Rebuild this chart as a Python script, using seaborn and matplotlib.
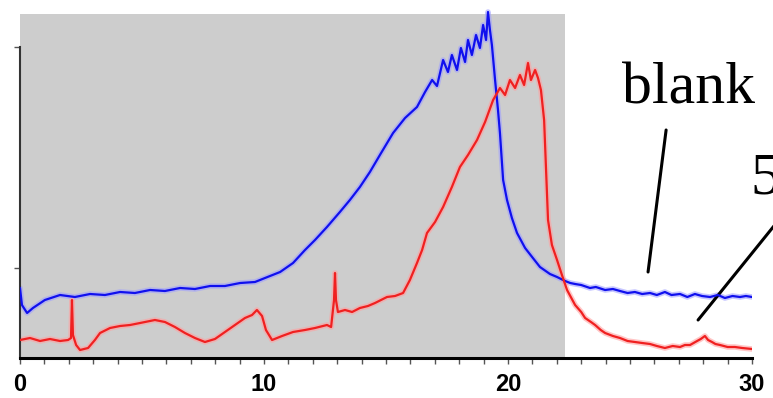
import pandas as pd
import matplotlib.pyplot as plt
import seaborn as sns

# retention time (min) and detector signal (arbitrary units)
blank_time = [0.00, 0.08, 0.29, 0.53, 1.02, 1.64, 2.25, 2.87, 3.48, 4.10, 4.71, 5.33, 5.94,
              6.56, 7.17, 7.79, 8.40, 9.02, 9.63, 10.04, 10.66, 11.19, 11.68, 12.09, 12.58,
              13.11, 13.52, 13.93, 14.34, 14.75, 15.29, 15.78, 16.27, 16.60, 16.89, 17.09,
              17.34, 17.54, 17.70, 17.91, 18.07, 18.24, 18.36, 18.52, 18.69, 18.85, 18.98,
              19.10, 19.18, 19.26, 19.34, 19.47, 19.59, 19.67, 19.80, 19.96, 20.16, 20.37,
              20.70, 21.02, 21.31, 21.72, 22.01, 22.34, 22.55, 22.75, 23.00, 23.36, 23.60,
              23.98, 24.30, 24.59, 24.90, 25.20, 25.50, 25.82, 26.10, 26.43, 26.70, 27.05,
              27.35, 27.66, 27.95, 28.28, 28.60, 28.89, 29.20, 29.51, 29.75, 30.00]
blank_signal = [70, 53, 45, 50, 58, 63, 61, 64, 63, 66, 65, 68, 67, 70, 69, 72, 72, 75, 76,
                80, 86, 95, 108, 118, 131, 146, 158, 171, 186, 203, 225, 240, 251, 266, 278,
                272, 298, 286, 303, 288, 310, 296, 318, 303, 323, 310, 333, 318, 346, 328,
                313, 278, 248, 225, 178, 158, 140, 125, 110, 100, 91, 84, 81, 77, 75, 74, 73,
                70, 71, 68, 69, 67, 65, 66, 64, 65, 63, 66, 63, 64, 61, 64, 62, 61, 63, 60,
                62, 61, 62, 61]

sample_time = [0.00, 0.41, 0.82, 1.23, 1.64, 1.97, 2.09, 2.13, 2.17, 2.30, 2.46, 2.79, 3.07,
               3.28, 3.69, 4.10, 4.51, 4.92, 5.53, 5.94, 6.35, 6.76, 7.17, 7.58, 7.99, 8.40,
               8.81, 9.22, 9.51, 9.71, 9.92, 10.08, 10.33, 10.74, 11.19, 11.68, 12.09, 12.58,
               12.75, 12.87, 12.91, 12.95, 13.03, 13.32, 13.61, 13.93, 14.26, 14.55, 15.04,
               15.37, 15.70, 15.98, 16.27, 16.48, 16.68, 17.01, 17.34, 17.70, 18.03, 18.36,
               18.73, 19.06, 19.39, 19.67, 19.88, 20.08, 20.29, 20.49, 20.66, 20.82, 20.94,
               21.11, 21.23, 21.35, 21.48, 21.56, 21.64, 21.80, 22.01, 22.21, 22.42, 22.75,
               23.00, 23.16, 23.40, 23.57, 23.80, 23.98, 24.30, 24.59, 24.90, 25.20, 25.50,
               25.82, 26.10, 26.43, 26.75, 27.05, 27.25, 27.46, 27.75, 27.90, 28.07, 28.20,
               28.36, 28.50, 28.69, 29.00, 29.30, 29.60, 30.00]
sample_signal = [18, 20, 17, 19, 17, 18, 20, 58, 23, 13, 8, 10, 18, 25, 30, 32, 33, 35, 38,
                 36, 31, 25, 20, 16, 19, 26, 33, 40, 43, 48, 42, 28, 18, 22, 26, 28, 30, 33,
                 31, 58, 85, 58, 46, 48, 46, 50, 52, 55, 61, 62, 65, 78, 95, 108, 125, 136,
                 151, 171, 191, 203, 218, 236, 258, 270, 263, 278, 270, 283, 273, 295, 278,
                 288, 280, 268, 238, 188, 138, 113, 98, 83, 68, 53, 46, 40, 36, 33, 28, 25,
                 22, 20, 17, 16, 15, 14, 12, 10, 12, 11, 13, 13, 17, 19, 22, 18, 16, 14, 13,
                 11, 11, 10, 9]

collect_end = 22.34
y_ticks = [90, 311]

df_blank = pd.DataFrame({'time': blank_time, 'signal': blank_signal})
df_sample = pd.DataFrame({'time': sample_time, 'signal': sample_signal})

sns.set_style('ticks')
plt.rcParams['font.family'] = ['Liberation Sans', 'DejaVu Sans']

fig = plt.figure(figsize=(7.73, 3.98), dpi=100)
ax = fig.add_axes([20 / 773, 40 / 398, 732 / 773, 353 / 398])

ax.axvspan(0, collect_end, ymin=0, ymax=344 / 353, color='#cdcdcd', lw=0, zorder=0)

# soft halo like the scanned original, then the trace itself
for df, col, halo in [(df_blank, '#1010ee', '#a0a0ff'), (df_sample, '#f02020', '#ffa0a0')]:
    sns.lineplot(data=df, x='time', y='signal', color=halo, linewidth=4, alpha=0.6, ax=ax, zorder=2)
    sns.lineplot(data=df, x='time', y='signal', color=col, linewidth=1.6, ax=ax, zorder=3)

ax.set_xlim(0, 30)
ax.set_ylim(0, 353)
ax.set_xlabel('')
ax.set_ylabel('')
ax.set_xticks([0, 10, 20, 30])
ax.set_xticks(range(0, 31), minor=True)
ax.set_yticks(y_ticks)
ax.set_yticklabels([])
ax.tick_params(axis='x', which='both', length=4, width=1, color='#555555', pad=7, labelcolor='black')
ax.tick_params(axis='y', length=4, width=1, color='#555555')
for lab in ax.get_xticklabels():
    lab.set_fontsize(17)
    lab.set_fontweight('bold')

ax.spines['top'].set_visible(False)
ax.spines['right'].set_visible(False)
ax.spines['left'].set_bounds(0, 311)
ax.spines['left'].set_linewidth(1.5)
ax.spines['left'].set_color('#333333')
ax.spines['bottom'].set_linewidth(2.2)
ax.spines['bottom'].set_color('black')

serif = ['Liberation Serif', 'DejaVu Serif']
ax.text(24.67, 255, 'blank', fontsize=43, family=serif, color='black', va='baseline')
ax.text(29.92, 165, '5', fontsize=43, family=serif, color='black', va='baseline')
ax.plot([26.48, 25.74], [228, 86], color='black', lw=2.2, clip_on=False)
ax.plot([27.79, 31.56], [38, 152], color='black', lw=2.2, clip_on=False)

plt.savefig('out.png', dpi=100)
